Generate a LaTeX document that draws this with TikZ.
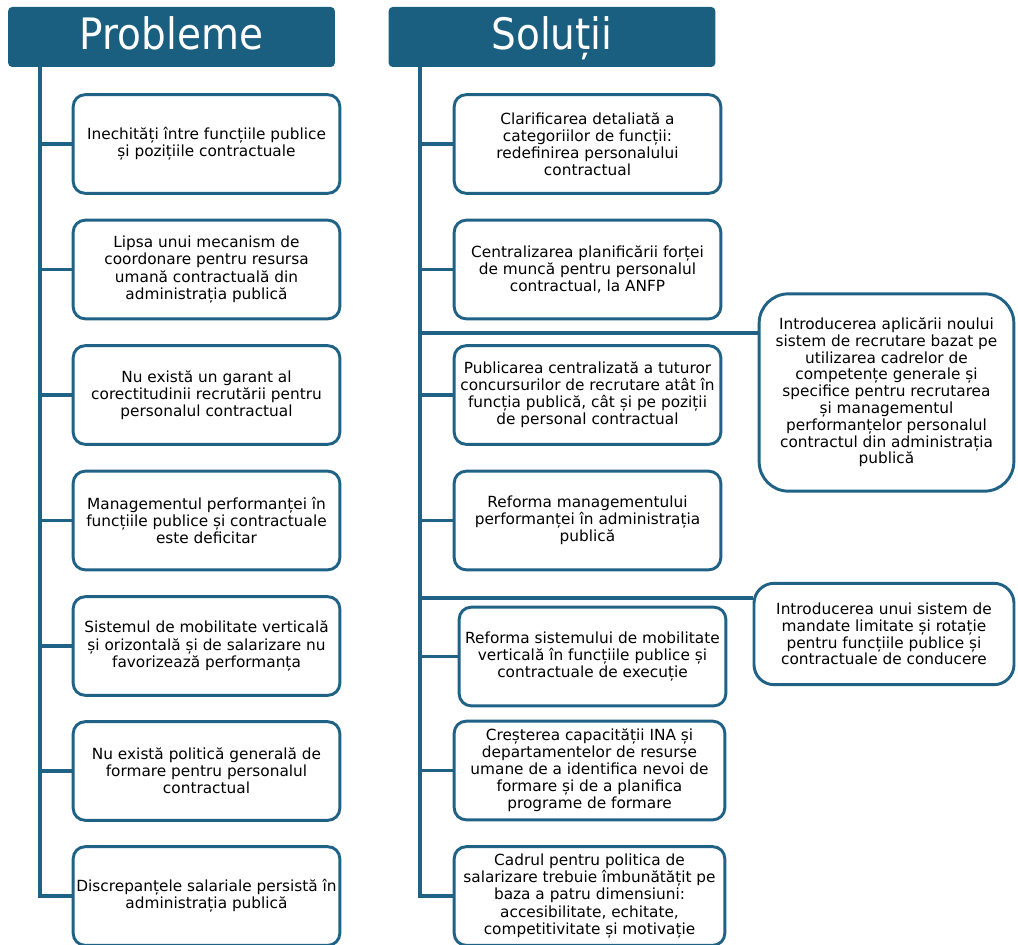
\documentclass[tikz,border=0pt]{standalone}
\usepackage{fontspec}
\setmainfont{DejaVu Sans}
\newfontfamily\headfont{DejaVu Sans Condensed}
\definecolor{headblue}{HTML}{1B5F80}
\definecolor{lineblue}{HTML}{1F6286}
\tikzset{
  header/.style={fill=headblue, draw=none, rounded corners=3pt, text=white,
    minimum width=245pt, minimum height=45pt, inner sep=0pt,
    text height=24pt, text depth=5pt,
    font=\headfont\fontsize{32.5}{36}\selectfont},
  itembox/.style={draw=lineblue, line width=2.2pt, rounded corners=9pt, fill=white,
    minimum width=200pt, minimum height=74pt, inner sep=0pt, align=center,
    font=\fontsize{11.5}{12.8}\selectfont},
  bigbox/.style={draw=lineblue, line width=2.2pt, fill=white, inner sep=0pt, align=center,
    font=\fontsize{11.5}{12.6}\selectfont},
  conn/.style={draw=lineblue, line width=2.4pt},
}
\begin{document}
\begin{tikzpicture}[x=0.75pt, y=-0.75pt]
\useasboundingbox (0,0) rectangle (1018,945);
% headers
\node[header] (H1) at (171.5,37) {Probleme};
\node[header] (H2) at (552,37) {Soluții};
% left column
\node[itembox] (P1) at (206.5,144) {Inechități între funcțiile publice\\și pozițiile contractuale};
\node[itembox] (P2) at (206.5,269.5) {Lipsa unui mecanism de\\coordonare pentru resursa\\umană contractuală din\\administrația publică};
\node[itembox] (P3) at (206.5,395) {Nu există un garant al\\corectitudinii recrutării pentru\\personalul contractual};
\node[itembox] (P4) at (206.5,520.5) {Managementul performanței în\\funcțiile publice și contractuale\\este deficitar};
\node[itembox] (P5) at (206.5,646) {Sistemul de mobilitate verticală\\și orizontală și de salarizare nu\\favorizează performanța};
\node[itembox] (P6) at (206.5,771) {Nu există politică generală de\\formare pentru personalul\\contractual};
\node[itembox] (P7) at (206.5,896) {Discrepanțele salariale persistă în\\administrația publică};
% right column
\node[itembox] (R1) at (587.5,144) {Clarificarea detaliată a\\categoriilor de funcții:\\redefinirea personalului\\contractual};
\node[itembox] (R2) at (587.5,269.5) {Centralizarea planificării forței\\de muncă pentru personalul\\contractual, la ANFP};
\node[itembox] (R3) at (587.5,395) {Publicarea centralizată a tuturor\\concursurilor de recrutare atât în\\funcția publică, cât și pe poziții\\de personal contractual};
\node[itembox] (R4) at (587.5,520.5) {Reforma managementului\\performanței în administrația\\publică};
\node[itembox] (R5) at (592.5,656.5) {Reforma sistemului de mobilitate\\verticală în funcțiile publice și\\contractuale de execuție};
\node[itembox, minimum width=203pt] (R6) at (589.5,770.5) {Creșterea capacității INA și\\departamentelor de resurse\\umane de a identifica nevoi de\\formare și de a planifica\\programe de formare};
\node[itembox, minimum width=203pt] (R7) at (589.5,896) {Cadrul pentru politica de\\salarizare trebuie îmbunătățit pe\\baza a patru dimensiuni:\\accesibilitate, echitate,\\competitivitate și motivație};
% big boxes
\node[bigbox, rounded corners=22pt, minimum width=191pt, minimum height=148pt] (B1) at (886.5,392.5) {Introducerea aplicării noului\\sistem de recrutare bazat pe\\utilizarea cadrelor de\\competențe generale și\\specifice pentru recrutarea\\și managementul\\performanțelor personalul\\contractul din administrația\\publică};
\node[bigbox, rounded corners=15pt, minimum width=195pt, minimum height=76pt] (B2) at (884,634) {Introducerea unui sistem de\\mandate limitate și rotație\\pentru funcțiile publice și\\contractuale de conducere};
% spine coordinates
\coordinate (L0) at (40,67);
\coordinate (R0) at (420,67);
\coordinate (S1) at (420,333);
\coordinate (S2) at (420,598);
% left connectors
\draw[conn] (L0) |- (P7.west);
\foreach \n in {P1,P2,P3,P4,P5,P6}{\draw[conn] (L0 |- \n.west) -- (\n.west);}
% right connectors
\draw[conn] (R0) |- (R7.west);
\foreach \n in {R1,R2,R3,R4,R5,R6}{\draw[conn] (R0 |- \n.west) -- (\n.west);}
\draw[conn] (S1) -- (S1 -| B1.west);
\draw[conn] (S2) -- (S2 -| B2.west);
\end{tikzpicture}
\end{document}
